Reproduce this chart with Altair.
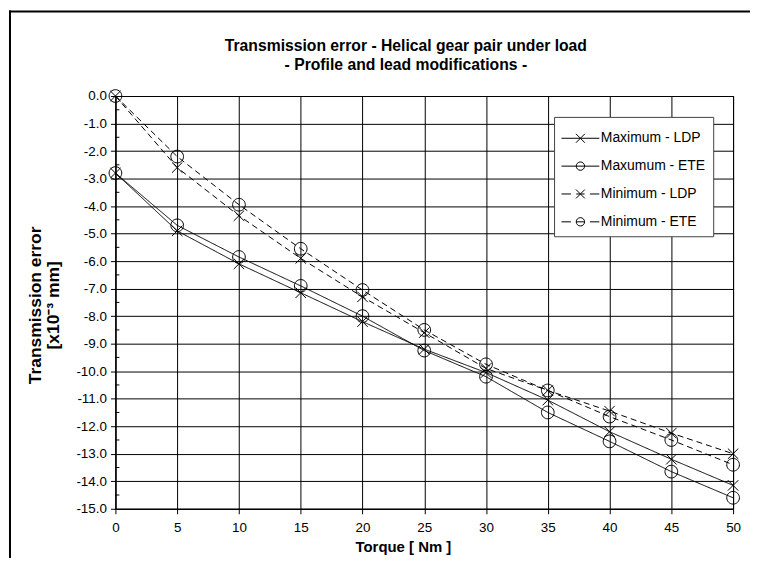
import altair as alt
import pandas as pd

# ---------------- data ----------------
torque = [0, 5, 10, 15, 20, 25, 30, 35, 40, 45, 50]
max_ldp = [-2.8, -4.9, -6.1, -7.15, -8.2, -9.2, -10.05, -11.05, -12.2, -13.2, -14.15]
max_ete = [-2.8, -4.7, -5.85, -6.9, -8.0, -9.25, -10.2, -11.5, -12.55, -13.65, -14.6]
min_ldp = [0.0, -2.6, -4.35, -5.9, -7.3, -8.6, -9.9, -10.7, -11.45, -12.25, -13.0]
min_ete = [0.0, -2.2, -3.95, -5.55, -7.05, -8.5, -9.75, -10.7, -11.65, -12.5, -13.4]
series_names = ["Maximum - LDP", "Maxumum - ETE", "Minimum - LDP", "Minimum - ETE"]
title_lines = ["Transmission error - Helical gear pair under load",
               "- Profile and lead modifications -"]

x_ticks = [0, 5, 10, 15, 20, 25, 30, 35, 40, 45, 50]
y_ticks = [0, -1, -2, -3, -4, -5, -6, -7, -8, -9, -10, -11, -12, -13, -14, -15]
y_minor = [-0.5, -1.5, -2.5, -3.5, -4.5, -5.5, -6.5, -7.5, -8.5, -9.5,
           -10.5, -11.5, -12.5, -13.5, -14.5]

rows = []
for name, vals in zip(series_names, [max_ldp, max_ete, min_ldp, min_ete]):
    for t, v in zip(torque, vals):
        rows.append({"torque": t, "te": v, "series": name})
df = pd.DataFrame(rows)
minor_df = pd.DataFrame({"te": y_minor})

FONT = "Liberation Sans"

# marker shapes (unit box)
X_PATH = "M-0.7,-0.7L0.7,0.7M-0.7,0.7L0.7,-0.7"
O_PATH = "M0.85,0A0.85,0.85,0,1,1,-0.85,0A0.85,0.85,0,1,1,0.85,0"
# legend symbols: line + marker (symbol box 28px -> 14 px per unit)
LX = "M-0.32,-0.32L0.32,0.32M-0.32,0.32L0.32,-0.32"
LO = "M0.3,0A0.3,0.3,0,1,1,-0.3,0A0.3,0.3,0,1,1,0.3,0"
SOLID = "M-1.36,0L1.36,0"
DASHED = "M-1.36,0L-0.68,0M-0.3,0L0.3,0M0.68,0L1.36,0"
legend_paths = [SOLID + LX, SOLID + LO, DASHED + LX, DASHED + LO]

x_scale = alt.Scale(domain=[0, 50], nice=False, zero=False)
y_scale = alt.Scale(domain=[-15, 0], nice=False, zero=False)

x_enc = alt.X(
    "torque:Q", scale=x_scale,
    axis=alt.Axis(values=x_ticks, title="Torque [ Nm ]", grid=True, format="d",
                  tickSize=5, labelPadding=7, labelFlush=False, labelOverlap=False,
                  titleFontSize=15,
                  titleX=289, titleY=38, titleBaseline="middle", titleAlign="center"),
)
y_enc = alt.Y(
    "te:Q", scale=y_scale,
    axis=alt.Axis(values=y_ticks, title=["Transmission error", "[x10\u207b\u00b3 mm]"],
                  grid=True, tickSize=5, labelPadding=4, labelFlush=False,
                  labelOverlap=False,
                  labelExpr="(datum.value < 0 ? '-' : '') + format(abs(datum.value), '.1f')",
                  titleFontSize=17.5, titleAngle=270, titleX=-80, titleY=210,
                  titleBaseline="middle", titleAlign="center", titleLineHeight=18),
)

lines = alt.Chart(df).mark_line(color="black", strokeWidth=1).encode(
    x=x_enc, y=y_enc,
    strokeDash=alt.StrokeDash("series:N",
                              scale=alt.Scale(domain=series_names,
                                              range=[[1, 0], [1, 0], [6, 4], [6, 4]]),
                              legend=None),
)

points = alt.Chart(df).mark_point(filled=False, color="black", opacity=1,
                                  strokeWidth=1, size=225).encode(
    x=x_enc, y=y_enc,
    shape=alt.Shape("series:N",
                    scale=alt.Scale(domain=series_names,
                                    range=[X_PATH, O_PATH, X_PATH, O_PATH]),
                    legend=None),
)

legend_layer = alt.Chart(df).transform_filter("false").mark_point(
    filled=False, color="black", opacity=1, strokeWidth=1, size=784).encode(
    x=x_enc, y=y_enc,
    shape=alt.Shape("series:N",
                    scale=alt.Scale(domain=series_names, range=legend_paths),
                    legend=alt.Legend(title=None, orient="none", legendX=441, legendY=21,
                                      padding=7, symbolOffset=5, labelOffset=6,
                                      rowPadding=6, strokeColor="#444", fillColor="white",
                                      labelFont=FONT, labelFontSize=14,
                                      labelColor="black", symbolStrokeColor="black",
                                      symbolStrokeWidth=1, symbolSize=784)),
)

minor = alt.Chart(minor_df).mark_rule(color="black", strokeWidth=1).encode(
    y=y_enc, x=alt.value(0), x2=alt.value(4),
)

one = alt.Data(values=[{}])
frame_left = alt.Chart(one).mark_rule(color="black", strokeWidth=2).encode(
    x=alt.value(-106), y=alt.value(-86), y2=alt.value(470),
)
frame_top = alt.Chart(one).mark_rule(color="black", strokeWidth=2).encode(
    x=alt.value(-107), x2=alt.value(660), y=alt.value(-85),
)
title1 = alt.Chart(one).mark_text(
    text=title_lines[0], font=FONT, fontSize=15.8, fontWeight="bold", color="black",
    align="center", baseline="middle").encode(x=alt.value(292), y=alt.value(-50))
title2 = alt.Chart(one).mark_text(
    text=title_lines[1], font=FONT, fontSize=15.8, fontWeight="bold", color="black",
    align="center", baseline="middle").encode(x=alt.value(292), y=alt.value(-31))

chart = alt.layer(frame_left, frame_top, title1, title2, lines, minor, points,
                  legend_layer).resolve_scale(
    shape="independent"
).properties(
    width=621, height=415,
    autosize=alt.AutoSizeParams(type="none"),
    padding={"left": 108, "top": 87, "right": 17, "bottom": 48},
    background="white",
).configure_view(
    stroke="black", strokeWidth=1
).configure_axis(
    labelFont=FONT, labelFontSize=13.5, labelColor="black", labelOverlap=False,
    titleFont=FONT, titleFontSize=14, titleFontWeight="bold", titleColor="black",
    domainColor="black", tickColor="black", gridColor="black", gridOpacity=1,
    gridWidth=1, domainWidth=1, tickWidth=1,
)

chart.save("out.html", embed_options={"renderer": "svg", "actions": False})
